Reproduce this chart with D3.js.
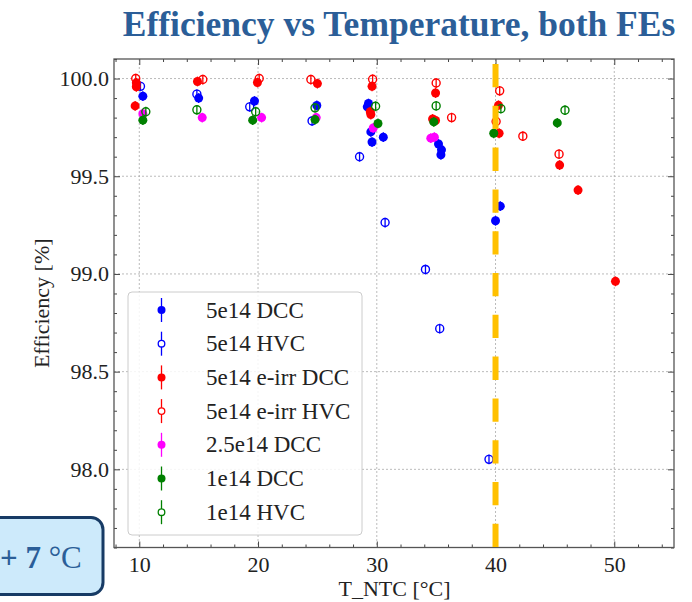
<!DOCTYPE html>
<html>
<head>
<meta charset="utf-8">
<script src="https://cdn.jsdelivr.net/npm/d3@7"></script>
<style>
  body { margin: 0; background: #fff; }
  svg { display: block; }
  .tick text { font-family: "Liberation Serif", serif; font-size: 22px; fill: #222; }
  .tick line { stroke: #444; }
</style>
</head>
<body>
<div id="chart"></div>
<script>
// datos: temperatura [°C] y eficiencia [%]
var dcc5T  = [10.3, 15.0, 19.7, 24.95, 29.3, 29.2, 29.5, 30.55, 29.6, 35.2, 35.45, 35.4, 40.4, 40.0];
var dcc5E  = [99.91, 99.90, 99.885, 99.862, 99.872, 99.855, 99.727, 99.70, 99.675, 99.665, 99.635, 99.61, 99.347, 99.272];

var hvc5T  = [10.1, 14.85, 19.3, 24.55, 28.55, 30.7, 34.1, 35.3, 39.45];
var hvc5E  = [99.96, 99.92, 99.855, 99.783, 99.60, 99.263, 99.023, 98.72, 98.051];

var dccIrrT = [9.75, 9.75, 9.65, 14.9, 19.95, 25.0, 29.6, 29.45, 29.5, 34.95, 34.7, 34.95, 40.25, 40.3, 45.4, 46.95, 50.1];
var dccIrrE = [99.978, 99.958, 99.86, 99.985, 99.98, 99.974, 99.96, 99.83, 99.816, 99.926, 99.793, 99.785, 99.863, 99.72, 99.557, 99.429, 98.962];

var hvcIrrT = [9.7, 15.35, 20.1, 24.45, 29.65, 35.0, 36.3, 40.35, 40.05, 42.3, 45.35];
var hvcIrrE = [100.0, 99.995, 100.0, 99.995, 99.996, 99.977, 99.80, 99.937, 99.78, 99.705, 99.613];

var dcc25T = [10.3, 15.3, 20.3, 24.9, 29.7, 34.55, 34.85];
var dcc25E = [99.82, 99.80, 99.80, 99.80, 99.747, 99.695, 99.70];

var dcc1T  = [10.3, 19.55, 24.8, 30.1, 34.8, 39.85, 45.2];
var dcc1E  = [99.787, 99.787, 99.79, 99.77, 99.778, 99.72, 99.773];

var hvc1T  = [10.55, 14.85, 19.8, 24.8, 29.9, 35.0, 40.45, 45.85];
var hvc1E  = [99.83, 99.84, 99.83, 99.85, 99.858, 99.86, 99.846, 99.838];

var seriesLabels = ["5e14 DCC", "5e14 HVC", "5e14 e-irr DCC", "5e14 e-irr HVC", "2.5e14 DCC", "1e14 DCC", "1e14 HVC"];
var seriesT = [dcc5T, hvc5T, dccIrrT, hvcIrrT, dcc25T, dcc1T, hvc1T];
var seriesE = [dcc5E, hvc5E, dccIrrE, hvcIrrE, dcc25E, dcc1E, hvc1E];
var errE = 0.025;   // barra de error aproximada
var limitT = 40;    // linea vertical amarilla

var xTicks = [10, 20, 30, 40, 50];
var yTicks = [98.0, 98.5, 99.0, 99.5, 100.0];

var colors = ["#0000ff", "#0000ff", "#ff0000", "#ff0000", "#ff00ff", "#008000", "#008000"];
var filled = [true, false, true, false, true, true, false];

var W = 692, H = 602;
var plotL = 114, plotR = 674, plotT = 59, plotB = 547.5;
var serif = "Liberation Serif, serif";

var svg = d3.select("#chart").append("svg")
    .attr("width", W)
    .attr("height", H);

var x = d3.scaleLinear().domain([7.87, 55.03]).range([plotL, plotR]);
var y = d3.scaleLinear().domain([97.6, 100.1]).range([plotB, plotT]);

// titulo
svg.append("text")
    .attr("x", 399).attr("y", 36)
    .attr("text-anchor", "middle")
    .style("font-family", serif)
    .style("font-weight", "bold")
    .style("font-size", "35.5px")
    .style("fill", "#2b5e98")
    .text("Efficiency vs Temperature, both FEs");

// rejilla
var grid = svg.append("g").attr("stroke", "#aaa").attr("stroke-width", 0.8).attr("stroke-dasharray", "2,2");
grid.selectAll(".gx").data(xTicks).enter().append("line")
    .attr("x1", d => x(d)).attr("x2", d => x(d)).attr("y1", plotT).attr("y2", plotB);
grid.selectAll(".gy").data(yTicks).enter().append("line")
    .attr("x1", plotL).attr("x2", plotR).attr("y1", d => y(d)).attr("y2", d => y(d));

// ejes con ticks hacia dentro
var xMinor = d3.range(8, 55.5, 2).filter(v => xTicks.indexOf(v) < 0);
var yMinor = d3.range(976, 1002, 1).map(v => v / 10).filter(v => yTicks.indexOf(v) < 0);

function addAxis(axis, tr) {
    var g = svg.append("g").attr("transform", tr).call(axis)
        .attr("font-family", serif).attr("font-size", 22);
    g.select(".domain").remove();
    return g;
}
addAxis(d3.axisBottom(x).tickValues(xTicks).tickSize(-6).tickPadding(9).tickFormat(d3.format("d")), "translate(0," + plotB + ")");
addAxis(d3.axisBottom(x).tickValues(xMinor).tickSize(-3).tickFormat(""), "translate(0," + plotB + ")");
addAxis(d3.axisTop(x).tickValues(xTicks).tickSize(-6).tickFormat(""), "translate(0," + plotT + ")");
addAxis(d3.axisTop(x).tickValues(xMinor).tickSize(-3).tickFormat(""), "translate(0," + plotT + ")");
addAxis(d3.axisLeft(y).tickValues(yTicks).tickSize(-6).tickPadding(5).tickFormat(d3.format(".1f")), "translate(" + plotL + ",0)");
addAxis(d3.axisLeft(y).tickValues(yMinor).tickSize(-3).tickFormat(""), "translate(" + plotL + ",0)");
addAxis(d3.axisRight(y).tickValues(yTicks).tickSize(-6).tickFormat(""), "translate(" + plotR + ",0)");
addAxis(d3.axisRight(y).tickValues(yMinor).tickSize(-3).tickFormat(""), "translate(" + plotR + ",0)");

svg.append("rect")
    .attr("x", plotL).attr("y", plotT)
    .attr("width", plotR - plotL).attr("height", plotB - plotT)
    .attr("fill", "none").attr("stroke", "#555").attr("stroke-width", 1.3);

// etiquetas de ejes
svg.append("text")
    .attr("x", x(31.5)).attr("y", 596)
    .attr("text-anchor", "middle")
    .style("font-family", serif).style("font-size", "22px").style("fill", "#222")
    .text("T_NTC [°C]");
svg.append("text")
    .attr("transform", "translate(49," + y(98.85) + ") rotate(-90)")
    .attr("text-anchor", "middle")
    .style("font-family", serif).style("font-size", "22px").style("fill", "#222")
    .text("Efficiency [%]");

// puntos
seriesLabels.forEach(function(label, i) {
    var pts = seriesT[i].map((t, j) => ({t: t, e: seriesE[i][j]}));
    var g = svg.append("g");
    g.selectAll("line").data(pts).enter().append("line")
        .attr("x1", d => x(d.t)).attr("x2", d => x(d.t))
        .attr("y1", d => y(d.e - errE)).attr("y2", d => y(d.e + errE))
        .attr("stroke", colors[i]).attr("stroke-width", 1.3);
    g.selectAll("circle").data(pts).enter().append("circle")
        .attr("cx", d => x(d.t)).attr("cy", d => y(d.e))
        .attr("r", filled[i] ? 4.5 : 4)
        .attr("fill", filled[i] ? colors[i] : "none")
        .attr("stroke", colors[i]).attr("stroke-width", filled[i] ? 0 : 1.4);
});

// linea a 40 °C
svg.append("line")
    .attr("x1", x(limitT)).attr("x2", x(limitT))
    .attr("y1", plotT).attr("y2", plotB)
    .attr("stroke", "#ffc000").attr("stroke-width", 6)
    .attr("stroke-dasharray", "23.3,18.5").attr("stroke-dashoffset", 36.8);

// leyenda
var leg = svg.append("g");
leg.append("rect")
    .attr("x", 128).attr("y", 292).attr("width", 234).attr("height", 243)
    .attr("rx", 4).attr("fill", "#fff").attr("fill-opacity", 0.85)
    .attr("stroke", "#ccc").attr("stroke-width", 1);
seriesLabels.forEach(function(label, i) {
    var cy = 310 + i * 33.7;
    leg.append("line")
        .attr("x1", 161.5).attr("x2", 161.5).attr("y1", cy - 12).attr("y2", cy + 12)
        .attr("stroke", colors[i]).attr("stroke-width", 1.3);
    leg.append("circle")
        .attr("cx", 161.5).attr("cy", cy).attr("r", filled[i] ? 4 : 3.3)
        .attr("fill", filled[i] ? colors[i] : "#fff")
        .attr("stroke", colors[i]).attr("stroke-width", filled[i] ? 0 : 1.3);
    leg.append("text")
        .attr("x", 206).attr("y", cy + 7.5)
        .style("font-family", serif).style("font-size", "23px").style("fill", "#222")
        .text(label);
});

// recuadro de la diapositiva
svg.append("rect")
    .attr("x", -12).attr("y", 517.5).attr("width", 115).attr("height", 77)
    .attr("rx", 12).attr("fill", "#cdeafb").attr("stroke", "#173b65").attr("stroke-width", 3);
var box = svg.append("text")
    .attr("x", 0).attr("y", 568)
    .style("font-family", serif).style("font-size", "31px").style("fill", "#2b5e98");
box.append("tspan").style("font-weight", "bold").text("+ 7 ");
box.append("tspan").text("°C");
</script>
</body>
</html>
